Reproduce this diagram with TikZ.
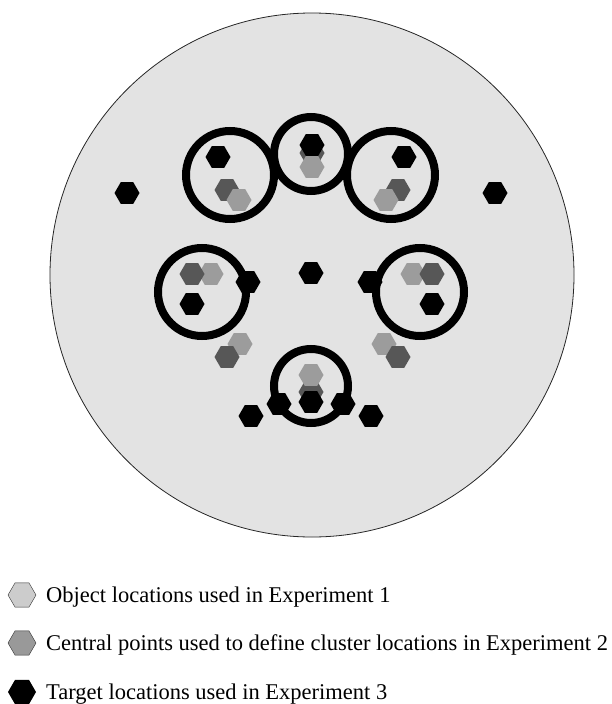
\documentclass[tikz,border=0pt]{standalone}
\usepackage{fontspec}
\setmainfont{Liberation Serif}
\usetikzlibrary{shapes.geometric,positioning}
\definecolor{arenagray}{HTML}{E3E3E3}
\definecolor{objgray}{HTML}{9C9C9C}
\definecolor{cengray}{HTML}{575757}
\tikzset{hex/.style={regular polygon, regular polygon sides=6, draw=none,
  minimum size=25pt, inner sep=0pt},
  obj/.style={hex, fill=objgray},
  cen/.style={hex, fill=cengray},
  tgt/.style={hex, fill=black},
  ring/.style={circle, draw, line width=8pt, inner sep=0pt, fill=none},
  key/.style={font=\fontsize{22.5}{27}\selectfont, anchor=base west,
  inner sep=0pt}}

\begin{document}
\begin{tikzpicture}[x=1pt, y=-1pt]
  \useasboundingbox (0,0) rectangle (612,704);
  \node[circle, draw=black!85, line width=0.8pt, fill=arenagray,
    minimum size=524pt, inner sep=0pt] (arena) at (312,275) {};
  % Central points (under the objects)
  \node[cen] (c1) at (227,190) {};
  \node[cen] (c2) at (398,190) {};
  \node[cen] (c3) at (312,153) {};
  \node[cen] (c4) at (311,392) {};
  % Object locations
  \node[obj] (o1) at (239,200) {};
  \node[obj] (o2) at (386,200) {};
  \node[obj] (o3) at (312,167) {};
  \node[obj] (o4) at (211,274) {};
  \node[obj] (o5) at (413,274) {};
  \node[obj] (o6) at (240,344) {};
  \node[obj] (o7) at (384,344) {};
  \node[obj] (o8) at (311,375) {};
  % Central points (over the objects)
  \node[cen] (c5) at (192,274) {};
  \node[cen] (c6) at (432,274) {};
  \node[cen] (c7) at (227,357) {};
  \node[cen] (c8) at (398,357) {};
  % Targets
  \node[tgt] (t1) at (127,193) {};
  \node[tgt] (t2) at (495,193) {};
  \node[tgt] (t3) at (218,157) {};
  \node[tgt] (t4) at (404,157) {};
  \node[tgt] (t5) at (312,145) {};
  \node[tgt] (t6) at (192,304) {};
  \node[tgt] (t7) at (432,304) {};
  \node[tgt] (t8) at (248,282) {};
  \node[tgt] (t9) at (370,282) {};
  \node[tgt] (t10) at (311,273) {};
  \node[tgt] (t11) at (311,402) {};
  \node[tgt] (t12) at (279,404) {};
  \node[tgt] (t13) at (343,404) {};
  \node[tgt] (t14) at (251,416) {};
  \node[tgt] (t15) at (371,416) {};
  % Clusters
  \node[ring, minimum size=88pt] (r1) at (230,175) {};
  \node[ring, minimum size=74pt] (r2) at (311,154) {};
  \node[ring, minimum size=88pt] (r3) at (391,175) {};
  \node[ring, minimum size=88pt] (r4) at (202,292) {};
  \node[ring, minimum size=88pt] (r5) at (420,292) {};
  \node[ring, minimum size=74pt] (r6) at (311,386) {};
  % Key
  \node[hex, draw=black!80, fill=black!20, minimum size=28pt] (k1) at (22,595) {};
  \node[hex, draw=black!80, fill=black!40, minimum size=28pt] (k2) at (22,643) {};
  \node[tgt, minimum size=28pt] (k3) at (22,692) {};
  \node[key] (l1) at (46,602) {Object locations used in Experiment 1};
  \node[key] (l2) at (46,650) {Central points used to define cluster locations in Experiment 2};
  \node[key] (l3) at (46,699) {Target locations used in Experiment 3};
\end{tikzpicture}
\end{document}
